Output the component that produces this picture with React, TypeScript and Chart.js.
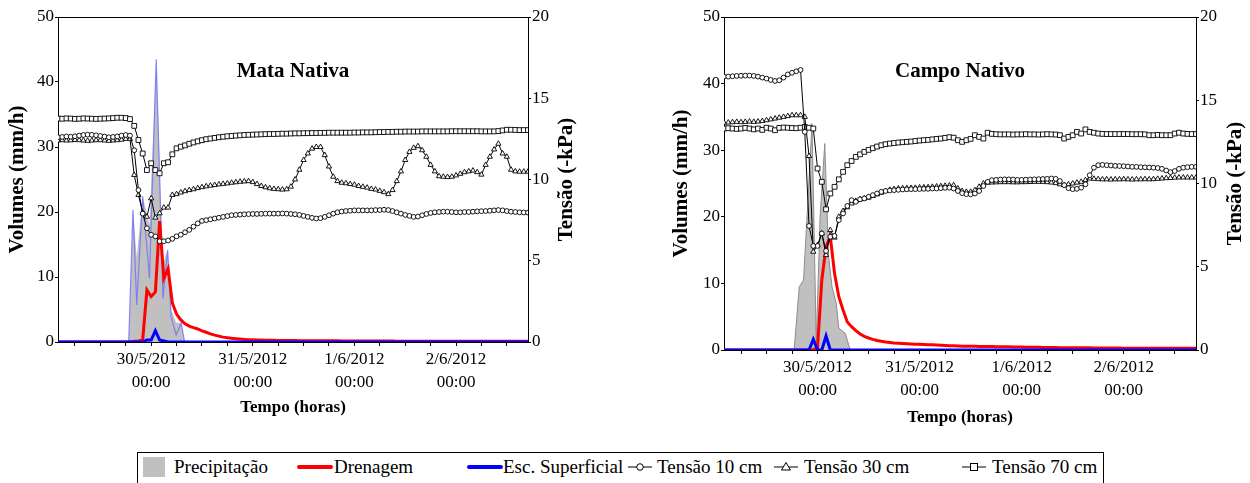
import React, { useEffect, useRef } from 'react';
import { Chart, registerables } from 'chart.js';

Chart.register(...registerables);

// ---------- data ----------
// hourly samples, hours relative to 30/5/2012 00:00
const HOURS: number[] = Array.from({ length: 112 }, (_, i) => i - 22);
const TICK_HOURS = [-18, -12, -6, 0, 6, 12, 18, 24, 30, 36, 42, 48, 54, 60, 66, 72, 78, 84];
const DAY_LABELS: Record<number, string> = { 0: '30/5/2012', 24: '31/5/2012', 48: '1/6/2012', 72: '2/6/2012' };
const TIME_LABEL = '00:00';

// ---- Mata Nativa ----
const MN_T10 = [
  12.6, 12.62, 12.65, 12.63, 12.66, 12.7, 12.74, 12.76, 12.75, 12.72, 12.68, 12.64, 12.6, 12.62, 12.65, 12.7, 12.74, 12.7,
  11.8, 9.35, 7.9, 7.0, 6.6, 6.5, 6.2, 6.2, 6.25, 6.35, 6.5, 6.6, 6.75, 6.9, 7.1, 7.3, 7.45, 7.5, 7.55, 7.6, 7.65, 7.7, 7.75, 7.8,
  7.82, 7.84, 7.86, 7.87, 7.88, 7.88, 7.89, 7.9, 7.9, 7.9, 7.9, 7.91, 7.9, 7.88,
  7.86, 7.82, 7.76, 7.7, 7.64, 7.6, 7.62, 7.7, 7.8, 7.9, 7.98,
  8.03, 8.06, 8.08, 8.1, 8.1, 8.1, 8.1, 8.1, 8.12, 8.12, 8.14, 8.12,
  8.06, 7.98, 7.9, 7.82, 7.76, 7.7, 7.72, 7.8, 7.88, 7.94,
  7.98, 8.0, 8.02, 8.02, 8.0, 7.98, 7.98, 8.0, 8.0, 8.02, 8.04, 8.05, 8.06, 8.08,
  8.1, 8.12, 8.1, 8.06, 8.02, 8.0, 7.98, 7.97, 7.96,
];
const MN_T30 = [
  12.4, 12.42, 12.4, 12.41, 12.43, 12.42, 12.4, 12.38, 12.4, 12.42, 12.42, 12.4, 12.38, 12.4, 12.42, 12.45, 12.5, 12.5,
  10.28, 9.05, 7.96, 7.71, 8.84, 7.65, 7.92, 8.27, 8.27, 9.05, 9.1, 9.2, 9.28, 9.35, 9.4, 9.47, 9.53, 9.58, 9.62, 9.66, 9.7, 9.73, 9.76, 9.8,
  9.83, 9.86, 9.88, 9.9, 9.84, 9.72, 9.6, 9.52, 9.46, 9.42, 9.4, 9.38, 9.4, 9.56,
  10.0, 10.6, 11.2, 11.6, 11.9, 12.0, 12.0, 11.5, 10.8, 10.17, 9.9,
  9.8, 9.77, 9.72, 9.68, 9.6, 9.55, 9.5, 9.42, 9.38, 9.3, 9.22, 9.1,
  9.35, 9.9, 10.5, 11.2, 11.7, 11.95, 12.05, 11.8, 11.4, 10.9,
  10.5, 10.2, 10.17, 10.15, 10.17, 10.25, 10.35, 10.45, 10.5, 10.55, 10.45, 10.3, 10.9, 11.4,
  11.85, 12.2, 11.6, 11.4, 10.6, 10.5, 10.48, 10.48, 10.48,
];
const MN_T70 = [
  13.75, 13.74, 13.76, 13.75, 13.73, 13.74, 13.76, 13.75, 13.74, 13.73, 13.74, 13.75, 13.76, 13.78, 13.8, 13.8, 13.78, 13.72,
  13.3, 12.43, 11.6, 10.58, 11.0, 10.58, 10.38, 11.0, 11.06, 11.55, 11.92, 12.02, 12.1, 12.2, 12.28, 12.35, 12.42, 12.48, 12.52, 12.56, 12.6, 12.63, 12.66, 12.68,
  12.7, 12.72, 12.74, 12.75, 12.76, 12.77, 12.78, 12.79, 12.8, 12.8, 12.81, 12.82, 12.82, 12.83,
  12.84, 12.84, 12.85, 12.85, 12.86, 12.86, 12.87, 12.87, 12.88, 12.88, 12.88,
  12.88, 12.88, 12.88, 12.89, 12.89, 12.9, 12.9, 12.9, 12.91, 12.92, 12.92, 12.93,
  12.93, 12.94, 12.94, 12.95, 12.95, 12.95, 12.95, 12.96, 12.96, 12.96,
  12.96, 12.96, 12.96, 12.96, 12.97, 12.97, 12.97, 12.97, 12.97, 12.97, 12.97, 12.96, 12.96, 12.96,
  12.96, 12.98, 13.02, 13.06, 13.06, 13.05, 13.04, 13.04, 13.04,
];
const MN_DREN = [
  0, 0, 0, 0, 0, 0, 0, 0, 0, 0, 0, 0, 0, 0, 0, 0, 0, 0,
  0.1, 0.15, 0.3, 8.0, 7.0, 7.7, 18.6, 9.8, 11.3, 6.0, 4.3, 3.4, 2.8, 2.45, 2.2, 2.0, 1.7, 1.5, 1.25, 1.05, 0.9, 0.75, 0.65, 0.56,
  0.5, 0.45, 0.4, 0.36, 0.33, 0.3, 0.29, 0.28, 0.27, 0.26, 0.25, 0.24, 0.23, 0.22,
  0.22, 0.21, 0.21, 0.2, 0.2, 0.2, 0.19, 0.19, 0.18, 0.18, 0.18,
  0.17, 0.17, 0.16, 0.16, 0.16, 0.15, 0.15, 0.15, 0.15, 0.14, 0.14, 0.14,
  0.14, 0.13, 0.13, 0.13, 0.13, 0.12, 0.12, 0.12, 0.12, 0.12,
  0.12, 0.11, 0.11, 0.11, 0.11, 0.11, 0.1, 0.1, 0.1, 0.1, 0.1, 0.1, 0.1, 0.1,
  0.1, 0.1, 0.1, 0.1, 0.1, 0.1, 0.1, 0.1, 0.1,
];
const MN_ESC_T = [-22, -2, -1, 0, 1, 2, 3, 4, 89];
const MN_ESC = [0, 0, 0.3, 0.3, 1.75, 0.3, 0.15, 0, 0];
const MN_PREC_T = [-22, -5.3, -4.3, -3.4, -2.0, -0.4, 1.2, 2.8, 3.9, 4.7, 5.9, 7.1, 7.9, 89];
const MN_PREC = [0, 0, 20.3, 13, 22.4, 18, 43.5, 12, 14.2, 5, 3, 2.9, 0, 0];
const MN_PREC_LINE = [0, 0, 20.3, 5.7, 22.4, 9.8, 43.5, 6.7, 14.2, 3.9, 1.1, 2.9, 0, 0];

// ---- Campo Nativo ----
const CN_T10 = [
  16.42, 16.42, 16.44, 16.46, 16.47, 16.48, 16.48, 16.46, 16.42, 16.36, 16.3, 16.22, 16.16, 16.2, 16.36, 16.55, 16.65, 16.74,
  16.82, 13.1, 7.45, 6.25, 6.25, 7.0, 5.95, 6.8, 6.85, 7.8, 8.2, 8.65, 9.0, 8.9, 9.05, 9.1, 9.2, 9.3, 9.4, 9.5, 9.55, 9.58, 9.6, 9.62,
  9.64, 9.65, 9.66, 9.66, 9.67, 9.68, 9.68, 9.7, 9.7, 9.72, 9.74, 9.75, 9.7, 9.55,
  9.42, 9.36, 9.35, 9.4, 9.55, 9.85, 10.1, 10.2, 10.22, 10.24, 10.25,
  10.25, 10.24, 10.22, 10.22, 10.23, 10.24, 10.25, 10.26, 10.27, 10.28, 10.3, 10.28,
  10.15, 9.9, 9.72, 9.66, 9.68, 9.75, 9.95, 10.5, 10.95, 11.1,
  11.12, 11.1, 11.08, 11.06, 11.05, 11.04, 11.02, 11.0, 11.0, 10.98, 10.97, 10.96, 10.95, 10.93,
  10.88, 10.78, 10.68, 10.75, 10.88, 10.95, 10.98, 11.0, 11.0,
];
const CN_T30 = [
  13.65, 13.66, 13.68, 13.7, 13.68, 13.7, 13.72, 13.7, 13.72, 13.75, 13.8, 13.85, 13.9, 13.95, 14.0, 14.05, 14.1, 14.1,
  14.1, 14.0, 11.65, 5.9, 6.3, 7.0, 5.7, 7.2, 6.75, 8.0, 8.35, 8.57, 8.8, 8.95, 9.05, 9.1, 9.15, 9.25, 9.35, 9.45, 9.55, 9.62, 9.66, 9.7,
  9.71, 9.72, 9.73, 9.74, 9.76, 9.77, 9.78, 9.8, 9.82, 9.84, 9.86, 9.88, 9.9, 9.7,
  9.55, 9.5, 9.5, 9.6, 9.8, 10.0, 10.05, 10.06, 10.07, 10.08, 10.08,
  10.08, 10.07, 10.07, 10.08, 10.08, 10.09, 10.1, 10.1, 10.1, 10.08, 10.06, 10.02,
  9.95, 9.9, 9.95, 10.0, 10.05, 10.1, 10.2, 10.3, 10.28, 10.26,
  10.25, 10.25, 10.24, 10.25, 10.25, 10.26, 10.25, 10.24, 10.25, 10.25, 10.26, 10.25, 10.26, 10.28,
  10.3, 10.32, 10.33, 10.35, 10.36, 10.36, 10.36, 10.36, 10.36,
];
const CN_T70 = [
  13.3, 13.32, 13.3, 13.28, 13.3, 13.34, 13.3, 13.25, 13.3, 13.22, 13.35, 13.3, 13.2, 13.34, 13.36, 13.35, 13.33, 13.32,
  13.35, 13.4, 13.35, 13.3, 10.9, 10.1, 8.45, 9.4, 9.8, 10.25, 10.7, 11.1, 11.35, 11.6, 11.75, 11.9, 12.02, 12.12, 12.22, 12.3, 12.36, 12.4, 12.43, 12.46,
  12.48, 12.5, 12.52, 12.55, 12.58, 12.6, 12.62, 12.65, 12.68, 12.7, 12.74, 12.78, 12.75, 12.6,
  12.5, 12.6, 12.68, 12.9, 12.8, 12.7, 13.05, 12.98, 12.96, 12.95, 12.95,
  12.95, 12.94, 12.95, 12.95, 12.96, 12.95, 12.95, 12.94, 12.95, 12.96, 12.95, 12.94,
  12.9, 12.7, 12.8, 12.9, 13.1, 13.0, 13.25, 13.1, 13.05, 13.0,
  12.98, 12.97, 12.97, 12.97, 12.97, 12.97, 12.97, 12.96, 12.96, 12.96, 12.95, 12.9, 12.9, 12.92,
  12.9, 12.9, 12.9, 13.0, 13.05, 13.0, 12.98, 12.97, 12.97,
];
const CN_DREN = [
  0, 0, 0, 0, 0, 0, 0, 0, 0, 0, 0, 0, 0, 0, 0, 0, 0, 0,
  0, 0, 0, 0.05, 0.3, 10.5, 15.5, 17.0, 11.5, 8.0, 6.0, 4.2, 3.5, 2.9, 2.4, 2.05, 1.8, 1.6, 1.42, 1.3, 1.2, 1.12, 1.05, 1.0,
  0.96, 0.93, 0.9, 0.88, 0.86, 0.84, 0.8, 0.77, 0.74, 0.71, 0.68, 0.65, 0.62, 0.6,
  0.58, 0.57, 0.56, 0.55, 0.54, 0.53, 0.52, 0.51, 0.5, 0.49, 0.48,
  0.47, 0.46, 0.45, 0.44, 0.43, 0.42, 0.41, 0.4, 0.39, 0.38, 0.37, 0.36,
  0.35, 0.35, 0.34, 0.34, 0.33, 0.33, 0.32, 0.32, 0.31, 0.31,
  0.3, 0.3, 0.3, 0.29, 0.29, 0.28, 0.28, 0.28, 0.27, 0.27, 0.27, 0.26, 0.26, 0.26,
  0.25, 0.25, 0.25, 0.25, 0.25, 0.25, 0.25, 0.25, 0.25,
];
const CN_ESC_T = [-22, -2, -1, 0, 1, 2, 3, 89];
const CN_ESC = [0, 0, 1.6, 0, 0, 2.1, 0, 0];
const CN_PREC_T = [-22, -5.5, -4.3, -3.3, -2.3, -1.3, -0.3, 0.6, 1.7, 2.6, 3.4, 4.4, 5.0, 6.5, 7.7, 89];
const CN_PREC = [0, 0, 9.5, 10.5, 22, 34, 1, 20, 31, 14, 9.5, 7, 3.3, 2.5, 0, 0];

// ---------- helpers ----------
const FONT = '"Liberation Serif", "Times New Roman", serif';
Chart.defaults.font.family = FONT;
Chart.defaults.color = '#000';

const pts = (xs: number[], ys: number[]) => ys.map((y, i) => ({ x: xs[i], y }));

interface PanelSpec {
  title: string;
  left: number; top: number; w: number; h: number;
  yLeftW: number; yRightW: number; xH: number;
  yTitlePad: number; rightTitleX: number;
  t10: number[]; t30: number[]; t70: number[];
  dren: number[]; escT: number[]; esc: number[];
  precT: number[]; prec: number[]; precLine?: number[];
  precBorder: string;
}

const PANELS: PanelSpec[] = [
  {
    title: 'Mata Nativa', left: 0, top: 0, w: 600, h: 430,
    yLeftW: 58, yRightW: 72, xH: 88, yTitlePad: 5.4, rightTitleX: 567,
    t10: MN_T10, t30: MN_T30, t70: MN_T70, dren: MN_DREN, escT: MN_ESC_T, esc: MN_ESC,
    precT: MN_PREC_T, prec: MN_PREC, precLine: MN_PREC_LINE, precBorder: 'rgba(0,0,0,0)',
  },
  {
    title: 'Campo Nativo', left: 640, top: 0, w: 610, h: 440,
    yLeftW: 84, yRightW: 54, xH: 90, yTitlePad: 29.4, rightTitleX: 596,
    t10: CN_T10, t30: CN_T30, t70: CN_T70, dren: CN_DREN, escT: CN_ESC_T, esc: CN_ESC,
    precT: CN_PREC_T, prec: CN_PREC, precBorder: '#8c8c8c',
  },
];

function decorPlugin(spec: PanelSpec) {
  return {
    id: 'decor',
    beforeDatasetsDraw(chart: any) {
      const { ctx, chartArea: a } = chart;
      ctx.save();
      ctx.strokeStyle = '#000';
      ctx.lineWidth = 1;
      ctx.strokeRect(Math.round(a.left) + 0.5, Math.round(a.top) + 0.5, Math.round(a.right - a.left), Math.round(a.bottom - a.top));
      ctx.restore();
    },
    afterDraw(chart: any) {
      const { ctx, chartArea: a } = chart;
      ctx.save();
      ctx.fillStyle = '#000';
      ctx.textAlign = 'center';
      ctx.textBaseline = 'middle';
      ctx.font = `bold 21px ${FONT}`;
      ctx.fillText(spec.title, (a.left + a.right) / 2, 72);
      ctx.translate(spec.rightTitleX, (a.top + a.bottom) / 2);
      ctx.rotate(-Math.PI / 2);
      ctx.font = `bold 21px ${FONT}`;
      ctx.fillText('Tensão (-kPa)', 0, 0);
      ctx.restore();
    },
  };
}

function tensionDs(label: string, data: number[], style: string, radius: number) {
  return {
    label,
    data: pts(HOURS, data),
    yAxisID: 'yT',
    borderColor: '#000',
    borderWidth: 1,
    pointStyle: style,
    pointRadius: radius,
    pointBackgroundColor: '#fff',
    pointBorderColor: '#000',
    pointBorderWidth: 0.9,
    tension: 0,
  };
}

function buildConfig(spec: PanelSpec): any {
  const datasets: any[] = [
    tensionDs('Tensão 10 cm', spec.t10, 'circle', 2.4),
    tensionDs('Tensão 30 cm', spec.t30, 'triangle', 3),
    tensionDs('Tensão 70 cm', spec.t70, 'rect', 3.4),
    {
      label: 'Esc. Superficial', data: pts(spec.escT, spec.esc), yAxisID: 'yV',
      borderColor: '#0000ff', borderWidth: 3, pointRadius: 0, tension: 0,
    },
    {
      label: 'Drenagem', data: pts(HOURS, spec.dren), yAxisID: 'yV',
      borderColor: '#ff0000', borderWidth: 3, pointRadius: 0, tension: 0,
    },
  ];
  if (spec.precLine) {
    datasets.push({
      label: 'Precipitação (linha)', data: pts(spec.precT, spec.precLine), yAxisID: 'yV',
      borderColor: 'rgba(110,110,255,0.8)', borderWidth: 1.2, pointRadius: 0, tension: 0,
    });
  }
  datasets.push({
    label: 'Precipitação', data: pts(spec.precT, spec.prec), yAxisID: 'yV',
    borderColor: spec.precBorder, borderWidth: 1, backgroundColor: '#c0c0c0',
    fill: 'origin', pointRadius: 0, tension: 0,
  });

  const tickGrid = (len: number) => ({
    display: true, drawOnChartArea: false, drawTicks: true, tickLength: len, color: '#000', lineWidth: 1,
  });
  const border = { display: true, color: '#000', width: 1 };

  return {
    type: 'line',
    data: { datasets },
    plugins: [decorPlugin(spec)],
    options: {
      responsive: false,
      maintainAspectRatio: false,
      animation: false,
      devicePixelRatio: 1,
      events: [],
      layout: { padding: { top: 17, left: 0, right: 0, bottom: 0 } },
      plugins: { legend: { display: false }, tooltip: { enabled: false }, title: { display: false } },
      scales: {
        x: {
          type: 'linear', min: -22, max: 89,
          afterBuildTicks: (s: any) => { s.ticks = TICK_HOURS.map((v) => ({ value: v })); },
          afterFit: (s: any) => { s.height = spec.xH; },
          grid: tickGrid(4), border,
          ticks: {
            autoSkip: false, maxRotation: 0, minRotation: 0, padding: 2, color: '#000',
            font: { size: 17, lineHeight: 1.37 },
            callback: (v: any) => (DAY_LABELS[v] !== undefined ? [DAY_LABELS[v], TIME_LABEL] : ''),
          },
          title: {
            display: true, text: 'Tempo (horas)', color: '#000',
            font: { size: 17, weight: 'bold', lineHeight: 1.2 }, padding: { top: 0, bottom: 12 },
          },
        },
        yV: {
          type: 'linear', position: 'left', min: 0, max: 50,
          afterFit: (s: any) => { s.width = spec.yLeftW; },
          grid: tickGrid(3), border,
          ticks: { stepSize: 10, padding: 1, color: '#000', font: { size: 17 } },
          title: {
            display: true, text: 'Volumes (mm/h)', color: '#000',
            font: { size: 21, weight: 'bold', lineHeight: 1.2 }, padding: { top: spec.yTitlePad, bottom: 0 },
          },
        },
        yT: {
          type: 'linear', position: 'right', min: 0, max: 20,
          afterFit: (s: any) => { s.width = spec.yRightW; },
          grid: tickGrid(3), border,
          ticks: { stepSize: 5, padding: 1, color: '#000', font: { size: 17 } },
          title: { display: false },
        },
      },
    },
  };
}

function Panel({ spec }: { spec: PanelSpec }) {
  const ref = useRef<HTMLCanvasElement>(null);
  useEffect(() => {
    const chart = new Chart(ref.current as HTMLCanvasElement, buildConfig(spec));
    return () => chart.destroy();
  }, [spec]);
  return (
    <canvas
      ref={ref}
      width={spec.w}
      height={spec.h}
      style={{ position: 'absolute', left: spec.left, top: spec.top, width: spec.w, height: spec.h, display: 'block' }}
    />
  );
}

const legendText: React.CSSProperties = {
  position: 'absolute', top: 455, fontFamily: FONT, fontSize: 19, lineHeight: '24px', color: '#000', whiteSpace: 'nowrap',
};

function Sym({ left, kind }: { left: number; kind: 'circle' | 'triangle' | 'square' }) {
  return (
    <svg style={{ position: 'absolute', left, top: 459 }} width={28} height={16}>
      <line x1={2} y1={8} x2={26} y2={8} stroke="#000" strokeWidth={1} />
      {kind === 'circle' && <circle cx={14} cy={8} r={3.3} fill="#fff" stroke="#000" strokeWidth={1} />}
      {kind === 'triangle' && <polygon points="14,3.5 18.5,11 9.5,11" fill="#fff" stroke="#000" strokeWidth={1} />}
      {kind === 'square' && <rect x={10.5} y={4.5} width={7} height={7} fill="#fff" stroke="#000" strokeWidth={1} />}
    </svg>
  );
}

function Legend() {
  return (
    <div>
      <div style={{ position: 'absolute', left: 137, top: 452, width: 967, height: 34, border: '1px solid #000', boxSizing: 'border-box' }} />
      <div style={{ position: 'absolute', left: 143, top: 457, width: 22, height: 20, background: '#c0c0c0' }} />
      <span style={{ ...legendText, left: 174 }}>Precipitação</span>
      <div style={{ position: 'absolute', left: 297, top: 465, width: 36, height: 4, background: '#ff0000', borderRadius: 2 }} />
      <span style={{ ...legendText, left: 334 }}>Drenagem</span>
      <div style={{ position: 'absolute', left: 467, top: 465, width: 36, height: 4, background: '#0000ff', borderRadius: 2 }} />
      <span style={{ ...legendText, left: 503 }}>Esc. Superficial</span>
      <Sym left={626} kind="circle" />
      <span style={{ ...legendText, left: 657 }}>Tensão 10 cm</span>
      <Sym left={772} kind="triangle" />
      <span style={{ ...legendText, left: 804 }}>Tensão 30 cm</span>
      <Sym left={960} kind="square" />
      <span style={{ ...legendText, left: 992 }}>Tensão 70 cm</span>
    </div>
  );
}

export default function App() {
  return (
    <div style={{ position: 'absolute', left: 0, top: 0, width: 1250, height: 483, background: '#fff', overflow: 'hidden' }}>
      {PANELS.map((p) => (
        <Panel key={p.title} spec={p} />
      ))}
      <Legend />
    </div>
  );
}
